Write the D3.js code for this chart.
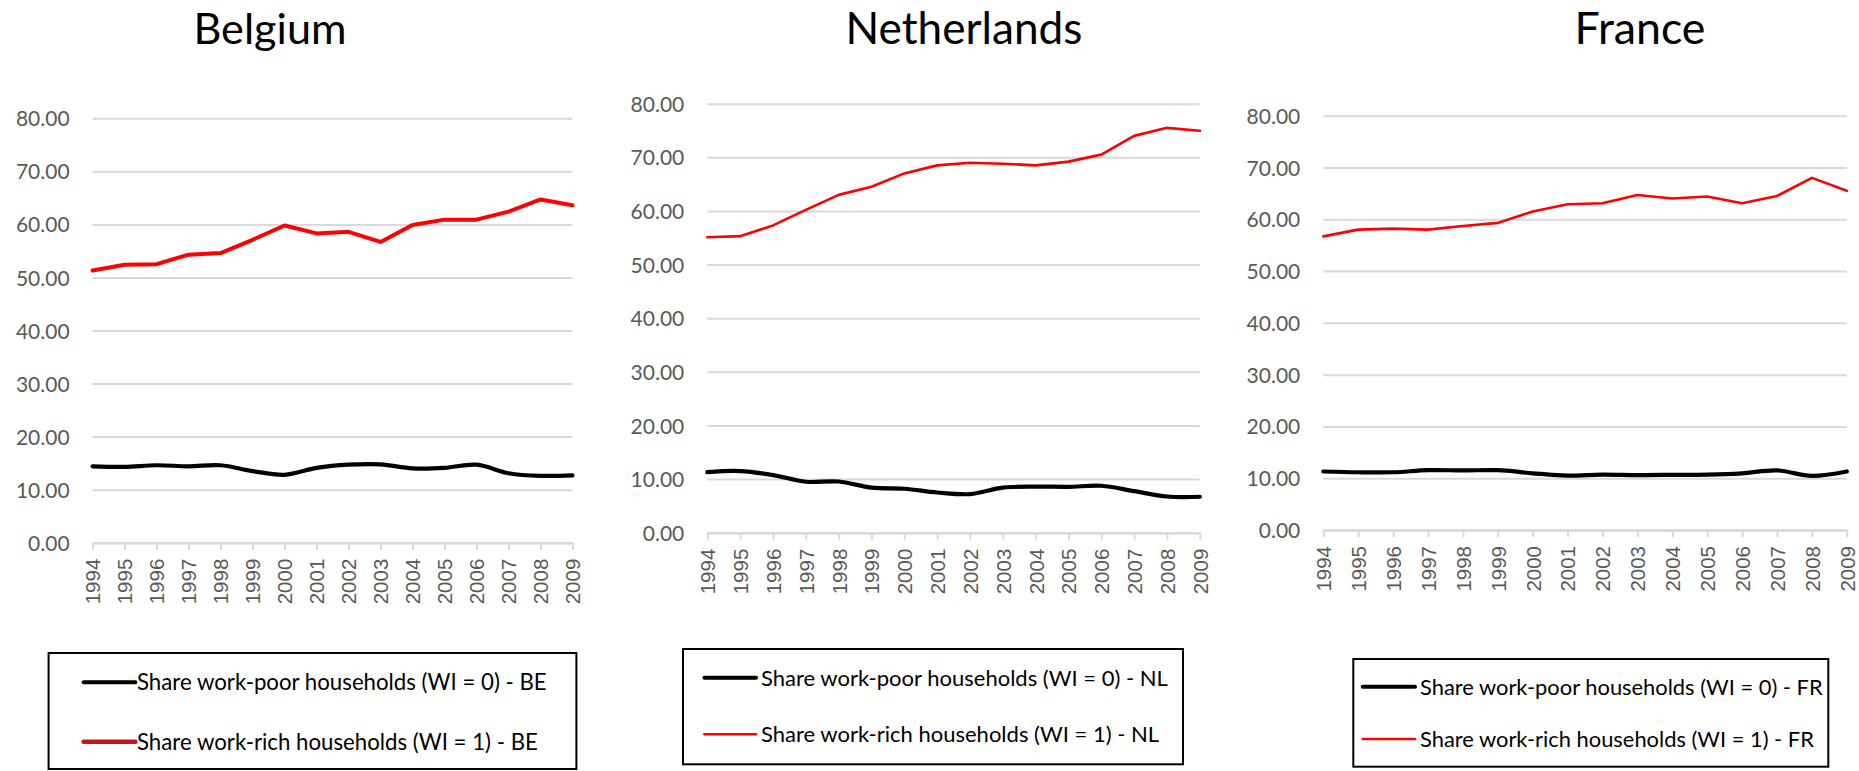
<!DOCTYPE html>
<html>
<head>
<meta charset="utf-8">
<script src="https://cdn.jsdelivr.net/npm/d3@7"></script>
<style>
  html, body { margin: 0; padding: 0; background: #fff; }
  svg { display: block; }
</style>
</head>
<body>
<svg id="chart" width="1859" height="771"></svg>
<script>
// ---------------- DATA ----------------
const years = ["1994","1995","1996","1997","1998","1999","2000","2001","2002","2003","2004","2005","2006","2007","2008","2009"];
const yTicks = [0, 10, 20, 30, 40, 50, 60, 70, 80];
const countries = ["Belgium", "Netherlands", "France"];
const countryCodes = ["BE", "NL", "FR"];

const beWorkPoor = [14.4, 14.3, 14.6, 14.4, 14.6, 13.5, 12.8, 14.1, 14.7, 14.75, 14.0, 14.1, 14.7, 13.1, 12.6, 12.7];
const beWorkRich = [51.3, 52.4, 52.5, 54.3, 54.6, 57.1, 59.8, 58.3, 58.6, 56.7, 59.9, 60.9, 60.9, 62.4, 64.7, 63.6];
const nlWorkPoor = [11.3, 11.5, 10.75, 9.5, 9.55, 8.4, 8.2, 7.5, 7.2, 8.4, 8.6, 8.55, 8.75, 7.75, 6.75, 6.7];
const nlWorkRich = [55.1, 55.3, 57.3, 60.2, 63.0, 64.5, 67.0, 68.5, 69.0, 68.8, 68.5, 69.2, 70.5, 74.0, 75.5, 74.95];
const frWorkPoor = [11.3, 11.15, 11.15, 11.55, 11.5, 11.55, 10.95, 10.5, 10.7, 10.6, 10.65, 10.7, 10.95, 11.5, 10.45, 11.3];
const frWorkRich = [56.7, 58.0, 58.2, 58.0, 58.7, 59.3, 61.5, 62.9, 63.1, 64.7, 64.0, 64.4, 63.1, 64.5, 68.0, 65.5];

const poorLabel = "Share work-poor households (WI = 0)";
const richLabel = "Share work-rich households (WI = 1)";
const seriesByCountry = [
  [beWorkPoor, beWorkRich],
  [nlWorkPoor, nlWorkRich],
  [frWorkPoor, frWorkRich]
];

// ---------------- LAYOUT / STYLE ----------------
const layout = [
  { x0: 92.6, x1: 572.5, y0: 542.7, yTop: 118.3, titleX: 270, titleW: 153,
    richW: 4, richLegendColor: "#c8141c", richLegendW: 4.5,
    legend: { x: 48.6, y: 653, w: 527.8, h: 116, lx0: 83.6, lx1: 135.4, ly1: 682.3, ly2: 741.7, tx: 137, tw: 410 } },
  { x0: 707.3, x1: 1199.8, y0: 532.7, yTop: 103.7, titleX: 964, titleW: 237,
    richW: 2.6, richLegendColor: "#ff0000", richLegendW: 2.6,
    legend: { x: 683, y: 649, w: 500, h: 115.3, lx0: 704.4, lx1: 756, ly1: 677.7, ly2: 734.3, tx: 761, tw: 407 } },
  { x0: 1323.3, x1: 1846.8, y0: 530, yTop: 115.7, titleX: 1640, titleW: 131,
    richW: 2.6, richLegendColor: "#ff0000", richLegendW: 2.6,
    legend: { x: 1353.3, y: 659, w: 475, h: 107.7, lx0: 1362.7, lx1: 1415, ly1: 686.7, ly2: 739, tx: 1420, tw: 403 } }
];

const uiFont = "Lato, 'Noto Sans', sans-serif";
const axisFont = "'Liberation Sans', Arial, sans-serif";
const gridColor = "#d9d9d9";
const labelColor = "#595959";

const svg = d3.select("#chart");

function fitWidth(sel, target) {
  const w = sel.node().getComputedTextLength();
  const fs = parseFloat(sel.attr("font-size"));
  if (w > 0) sel.attr("font-size", fs * target / w);
}

countries.forEach((country, ci) => {
  const L = layout[ci];
  const [poor, rich] = seriesByCountry[ci];
  const g = svg.append("g");

  const x = d3.scalePoint().domain(years).range([L.x0, L.x1]);
  const y = d3.scaleLinear().domain([0, 80]).range([L.y0, L.yTop]);

  // Title
  const title = g.append("text")
    .attr("x", L.titleX).attr("y", 43.5)
    .attr("text-anchor", "middle")
    .attr("font-family", uiFont)
    .attr("font-weight", 400)
    .attr("font-size", 42)
    .attr("fill", "#000")
    .text(country);
  fitWidth(title, L.titleW);

  // Y axis with gridlines
  const yAxis = d3.axisLeft(y)
    .tickValues(yTicks)
    .tickSize(-(L.x1 - L.x0))
    .tickPadding(23)
    .tickFormat(d3.format(".2f"));
  const yg = g.append("g").attr("transform", `translate(${L.x0},0)`).call(yAxis);
  yg.select(".domain").remove();
  yg.selectAll(".tick line").attr("stroke", gridColor).attr("stroke-width", 2);
  yg.selectAll(".tick text")
    .attr("font-family", uiFont)
    .attr("font-size", 21)
    .attr("fill", labelColor)
    .attr("dy", "0.36em");

  // X axis
  const xAxis = d3.axisBottom(x).tickSize(7).tickSizeOuter(0);
  const xg = g.append("g").attr("transform", `translate(0,${L.y0})`).call(xAxis);
  xg.select(".domain").attr("stroke", gridColor).attr("stroke-width", 2.5);
  xg.selectAll(".tick line").attr("stroke", gridColor).attr("stroke-width", 2);
  xg.selectAll(".tick text")
    .attr("font-family", axisFont)
    .attr("font-size", 20.5)
    .attr("fill", labelColor)
    .attr("transform", "rotate(-90)")
    .attr("x", -16)
    .attr("y", 0)
    .attr("dy", "0.36em")
    .style("text-anchor", "end");

  // Lines
  const smoothLine = d3.line()
    .x((d, i) => x(years[i]))
    .y(d => y(d))
    .curve(d3.curveCatmullRom.alpha(0.5));
  const straightLine = d3.line()
    .x((d, i) => x(years[i]))
    .y(d => y(d))
    .curve(d3.curveLinear);

  g.append("path")
    .datum(rich)
    .attr("d", straightLine)
    .attr("fill", "none")
    .attr("stroke", "#ff0000")
    .attr("stroke-width", L.richW)
    .attr("stroke-linejoin", "round")
    .attr("stroke-linecap", "round");

  g.append("path")
    .datum(poor)
    .attr("d", smoothLine)
    .attr("fill", "none")
    .attr("stroke", "#000")
    .attr("stroke-width", 4.2)
    .attr("stroke-linejoin", "round")
    .attr("stroke-linecap", "round");

  // Legend
  const lg = L.legend;
  const leg = g.append("g");
  leg.append("rect")
    .attr("x", lg.x).attr("y", lg.y)
    .attr("width", lg.w).attr("height", lg.h)
    .attr("fill", "#fff")
    .attr("stroke", "#000")
    .attr("stroke-width", 2);

  const entries = [
    { label: `${poorLabel} - ${countryCodes[ci]}`, color: "#000", width: 4, ly: lg.ly1 },
    { label: `${richLabel} - ${countryCodes[ci]}`, color: L.richLegendColor, width: L.richLegendW, ly: lg.ly2 }
  ];
  entries.forEach((e, k) => {
    leg.append("line")
      .attr("x1", lg.lx0).attr("x2", lg.lx1)
      .attr("y1", e.ly).attr("y2", e.ly)
      .attr("stroke", e.color)
      .attr("stroke-width", e.width)
      .attr("stroke-linecap", "round");
    const t = leg.append("text")
      .attr("x", lg.tx).attr("y", e.ly)
      .attr("dy", "0.36em")
      .attr("font-family", uiFont)
      .attr("font-size", 20)
      .attr("fill", "#000")
      .text(e.label);
    if (k === 0) fitWidth(t, lg.tw);
    else {
      t.attr("font-size", leg.select("text").attr("font-size"));
    }
  });
});
</script>
</body>
</html>
